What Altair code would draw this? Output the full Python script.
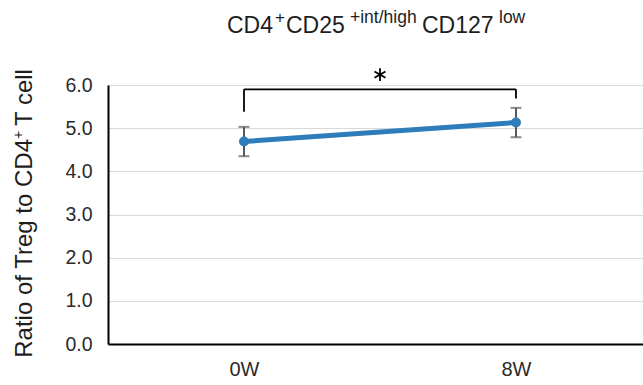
import altair as alt
import pandas as pd

# ---- data ----
times = ["0W", "8W"]
means = [4.69, 5.13]
sds = [0.34, 0.34]
y_ticks = [0, 1, 2, 3, 4, 5, 6]
bracket_top = 5.90
bracket_left_end = 5.38
bracket_right_end = 5.69
star_level = 6.24
title_parts = ["CD4", "+", "CD25", "+int/high", "CD127", "low"]
ytitle_parts = ["Ratio of Treg to CD4", "+", "T cell"]

idx = list(range(len(times)))
df = pd.DataFrame({
    "idx": idx,
    "time": times,
    "mean": means,
    "lo": [m - s for m, s in zip(means, sds)],
    "hi": [m + s for m, s in zip(means, sds)],
})
br_h = pd.DataFrame({"x0": [idx[0]], "x1": [idx[-1]], "y": [bracket_top]})
br_v = pd.DataFrame({"x": [idx[0], idx[-1]],
                     "ylo": [bracket_left_end, bracket_right_end],
                     "yhi": [bracket_top, bracket_top]})
star = pd.DataFrame({"x": [(idx[0] + idx[-1]) / 2], "y": [star_level]})
one = pd.DataFrame({"a": [0]})

FONT = "Liberation Sans"
BLUE = "#2e7dba"
TXT = "#1e1e1e"

xscale = alt.Scale(domain=[-0.5, 1.467], nice=False, zero=False)
yscale = alt.Scale(domain=[0, 6], nice=False)
label_expr = "[" + ",".join("'%s'" % t for t in times) + "][datum.value]"

x_axis = alt.Axis(
    values=idx, labelExpr=label_expr, title=None, grid=False, ticks=False,
    domain=True, domainColor="black", domainWidth=2,
    labelFont=FONT, labelFontSize=20, labelColor="#2a2a2a", labelPadding=15)
y_axis = alt.Axis(
    values=y_ticks, format=".1f", title=None, grid=True, gridColor="#d9d9d9",
    gridWidth=1.2, ticks=False, domain=True, domainColor="black", domainWidth=2,
    labelFont=FONT, labelFontSize=19.5, labelColor="#2a2a2a", labelPadding=16)


def X(field):
    return alt.X(field, type="quantitative", scale=xscale, axis=x_axis)


def Y(field):
    return alt.Y(field, type="quantitative", scale=yscale, axis=y_axis)


base = alt.Chart(df)

err = base.mark_errorbar(color="#595959", thickness=2, ticks={"size": 11}).encode(
    x=X("idx"), y=Y("lo"), y2="hi:Q")

line = base.mark_line(color=BLUE, strokeWidth=5).encode(x=X("idx"), y=Y("mean"))
pts = base.mark_point(filled=True, size=100, color=BLUE, opacity=1).encode(
    x=X("idx"), y=Y("mean"))

bh = alt.Chart(br_h).mark_rule(color="black", strokeWidth=1.8).encode(
    x=X("x0"), x2="x1:Q", y=Y("y"))
bv = alt.Chart(br_v).mark_rule(color="black", strokeWidth=1.8).encode(
    x=X("x"), y=Y("ylo"), y2="yhi:Q")

star_path = "M0,-1L0,1M-0.866,-0.5L0.866,0.5M-0.866,0.5L0.866,-0.5"
st = alt.Chart(star).mark_point(shape=star_path, size=160, filled=False,
                                strokeWidth=1.8, color="black", opacity=1).encode(
    x=X("x"), y=Y("y"))


def txt(text, px, py, size, align="left", angle=0, baseline="alphabetic"):
    return alt.Chart(one).mark_text(
        font=FONT, fontSize=size, color=TXT, align=align, baseline=baseline,
        angle=angle).encode(x=alt.value(px), y=alt.value(py), text=alt.value(text))


# title pieces (main text and superscripts)
title_layers = [
    txt(title_parts[0], 119, -52, 23),
    txt(title_parts[1], 167, -62, 17),
    txt(title_parts[2], 178, -52, 23),
    txt(title_parts[3], 242, -62, 17.5),
    txt(title_parts[4], 314, -52, 23),
    txt(title_parts[5], 391, -62, 17.5),
]
# rotated y-axis title
ytitle_layers = [
    txt(ytitle_parts[0], -76, 54, 24, align="right", angle=270),
    txt(ytitle_parts[1], -85, 50, 14, align="center", angle=270),
    txt(ytitle_parts[2], -76, 41, 24, align="left", angle=270),
]

chart = alt.layer(err, line, pts, bh, bv, st, *title_layers, *ytitle_layers).properties(
    width=535, height=259,
    autosize=alt.AutoSizeParams(type="none"),
    padding={"left": 108, "top": 85, "right": 0, "bottom": 41},
).configure_view(stroke=None)

chart.save("out.html", embed_options={"renderer": "svg", "actions": False})
